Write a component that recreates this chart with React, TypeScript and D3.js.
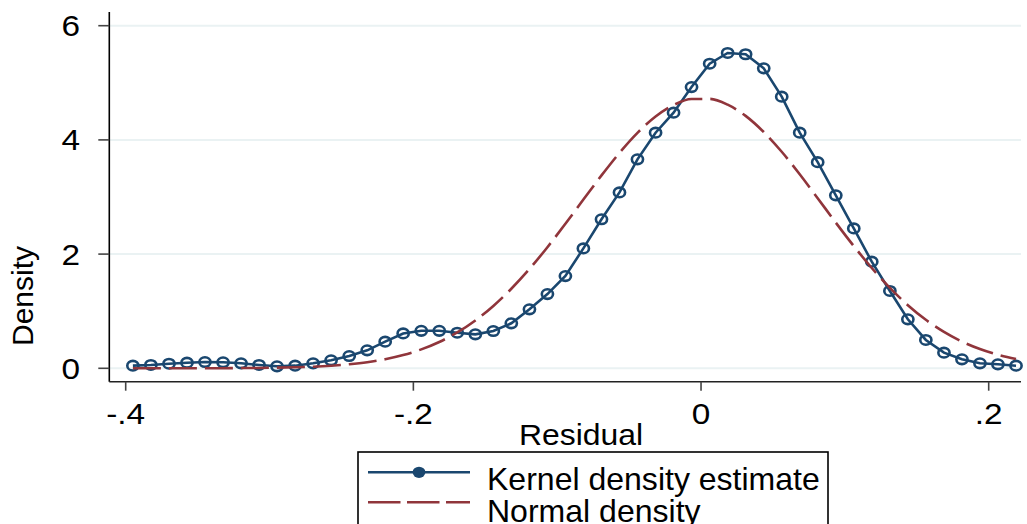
import * as d3 from "d3";
import { useEffect, useRef } from "react";

const width = 1027;
const height = 524;

// evaluation grid of the kernel density
const gridX = [
  -0.395, -0.3825, -0.3699, -0.3574, -0.3449, -0.3323, -0.3198, -0.3073, -0.2948, -0.2822,
  -0.2697, -0.2572, -0.2446, -0.2321, -0.2196, -0.2071, -0.1945, -0.182, -0.1695, -0.1569,
  -0.1444, -0.1319, -0.1193, -0.1068, -0.0943, -0.0818, -0.0692, -0.0567, -0.0442, -0.0316,
  -0.0191, -0.0066, 0.006, 0.0185, 0.031, 0.0436, 0.0561, 0.0686, 0.0811, 0.0937,
  0.1062, 0.1187, 0.1313, 0.1438, 0.1563, 0.1689, 0.1814, 0.1939, 0.2064, 0.219
];

const kernelDensity = [
  0.046, 0.058, 0.08, 0.098, 0.11, 0.105, 0.088, 0.058, 0.035, 0.046,
  0.088, 0.14, 0.215, 0.315, 0.466, 0.61, 0.657, 0.657, 0.623, 0.595,
  0.653, 0.788, 1.033, 1.3, 1.616, 2.1, 2.61, 3.08, 3.66, 4.126,
  4.476, 4.926, 5.334, 5.522, 5.5, 5.254, 4.757, 4.126, 3.61, 3.03,
  2.45, 1.867, 1.354, 0.858, 0.496, 0.274, 0.157, 0.088, 0.07, 0.046
];

const normalDensity = [
  0.0, 0.0, 0.0, 0.001, 0.001, 0.002, 0.004, 0.006, 0.011, 0.018,
  0.028, 0.045, 0.071, 0.107, 0.159, 0.232, 0.331, 0.461, 0.628, 0.838,
  1.092, 1.393, 1.739, 2.121, 2.532, 2.955, 3.378, 3.773, 4.123, 4.409,
  4.61, 4.715, 4.718, 4.617, 4.421, 4.138, 3.792, 3.398, 2.979, 2.551,
  2.141, 1.757, 1.408, 1.105, 0.849, 0.637, 0.468, 0.337, 0.237, 0.162
];

const xTicks = [-0.4, -0.2, 0, 0.2];
const xTickLabels = ["-.4", "-.2", "0", ".2"];
const yTicks = [0, 2, 4, 6];
const yTickLabels = ["0", "2", "4", "6"];
const seriesNames = ["Kernel density estimate", "Normal density"];

const navy = "#1a476f";
const maroon = "#90353b";
const gridColor = "#eaf2f3";
const font = "'Liberation Sans', Arial, sans-serif";

const plot = { left: 109.3, right: 1021, top: 12, bottom: 381.7 };

export default function App() {
  const svgRef = useRef<SVGSVGElement | null>(null);

  useEffect(() => {
    if (!svgRef.current) {
      return;
    }
    const svg = d3.select(svgRef.current);
    svg.selectAll("*").remove();

    const x = d3.scaleLinear().domain([-0.4, 0.2]).range([125.7, 988.7]);
    const y = d3.scaleLinear().domain([0, 6]).range([368.3, 25.7]);

    svg.append("rect").attr("width", width).attr("height", height).attr("fill", "#ffffff");

    // grid
    svg
      .append("g")
      .selectAll("line")
      .data(yTicks)
      .join("line")
      .attr("x1", plot.left)
      .attr("x2", plot.right)
      .attr("y1", (t) => y(t))
      .attr("y2", (t) => y(t))
      .attr("stroke", gridColor)
      .attr("stroke-width", 2);

    const points = gridX.map((gx, i) => ({ x: gx, k: kernelDensity[i], n: normalDensity[i] }));

    const kdeLine = d3
      .line<(typeof points)[number]>()
      .x((p) => x(p.x))
      .y((p) => y(p.k));

    const normLine = d3
      .line<(typeof points)[number]>()
      .x((p) => x(p.x))
      .y((p) => y(p.n))
      .curve(d3.curveMonotoneX);

    svg
      .append("path")
      .datum(points)
      .attr("d", kdeLine)
      .attr("fill", "none")
      .attr("stroke", navy)
      .attr("stroke-width", 2.6);

    svg
      .append("g")
      .selectAll("ellipse")
      .data(points)
      .join("ellipse")
      .attr("cx", (p) => x(p.x))
      .attr("cy", (p) => y(p.k))
      .attr("rx", 5.6)
      .attr("ry", 4.8)
      .attr("fill", "none")
      .attr("stroke", navy)
      .attr("stroke-width", 2.6);

    svg
      .append("path")
      .datum(points)
      .attr("d", normLine)
      .attr("fill", "none")
      .attr("stroke", maroon)
      .attr("stroke-width", 2.6)
      .attr("stroke-dasharray", "28 8");

    // axes
    svg
      .append("line")
      .attr("x1", plot.left)
      .attr("x2", plot.left)
      .attr("y1", plot.top)
      .attr("y2", plot.bottom)
      .attr("stroke", "#000")
      .attr("stroke-width", 1.6);
    svg
      .append("line")
      .attr("x1", plot.left)
      .attr("x2", plot.right)
      .attr("y1", plot.bottom)
      .attr("y2", plot.bottom)
      .attr("stroke", "#222")
      .attr("stroke-width", 1.6);

    svg
      .append("g")
      .selectAll("line")
      .data(yTicks)
      .join("line")
      .attr("x1", plot.left - 11)
      .attr("x2", plot.left)
      .attr("y1", (t) => y(t))
      .attr("y2", (t) => y(t))
      .attr("stroke", "#444")
      .attr("stroke-width", 1.6);

    svg
      .append("g")
      .selectAll("line")
      .data(xTicks)
      .join("line")
      .attr("x1", (t) => x(t))
      .attr("x2", (t) => x(t))
      .attr("y1", plot.bottom)
      .attr("y2", plot.bottom + 9)
      .attr("stroke", "#444")
      .attr("stroke-width", 1.6);

    // text is a little wider than plain Arial in the reference
    svg
      .append("g")
      .selectAll("text")
      .data(yTicks)
      .join("text")
      .attr("transform", (t) => `translate(80, ${y(t) + 10.5}) scale(1.15, 1)`)
      .attr("text-anchor", "end")
      .attr("font-family", font)
      .attr("font-size", 29)
      .text((_t, i) => yTickLabels[i]);

    svg
      .append("g")
      .selectAll("text")
      .data(xTicks)
      .join("text")
      .attr("transform", (t) => `translate(${x(t)}, 424) scale(1.15, 1)`)
      .attr("text-anchor", "middle")
      .attr("font-family", font)
      .attr("font-size", 29)
      .text((_t, i) => xTickLabels[i]);

    svg
      .append("text")
      .attr("transform", "translate(33, 296) rotate(-90)")
      .attr("text-anchor", "middle")
      .attr("font-family", font)
      .attr("font-size", 30)
      .text("Density");

    svg
      .append("text")
      .attr("transform", "translate(581, 445) scale(1.1, 1)")
      .attr("text-anchor", "middle")
      .attr("font-family", font)
      .attr("font-size", 29)
      .text("Residual");

    // legend
    const legend = svg.append("g");
    legend
      .append("rect")
      .attr("x", 358)
      .attr("y", 452)
      .attr("width", 470)
      .attr("height", 110)
      .attr("fill", "#fff")
      .attr("stroke", "#000")
      .attr("stroke-width", 1.6);
    legend
      .append("line")
      .attr("x1", 368)
      .attr("x2", 470)
      .attr("y1", 472.3)
      .attr("y2", 472.3)
      .attr("stroke", navy)
      .attr("stroke-width", 2.6);
    legend
      .append("ellipse")
      .attr("cx", 419)
      .attr("cy", 472.3)
      .attr("rx", 6.4)
      .attr("ry", 5.6)
      .attr("fill", navy);
    legend
      .append("line")
      .attr("x1", 368)
      .attr("x2", 470)
      .attr("y1", 502.3)
      .attr("y2", 502.3)
      .attr("stroke", maroon)
      .attr("stroke-width", 2.6)
      .attr("stroke-dasharray", "32.5 6.5");
    legend
      .selectAll("text")
      .data(seriesNames)
      .join("text")
      .attr("transform", (_d, i) => `translate(487, ${490 + i * 31.5}) scale(1.05, 1)`)
      .attr("font-family", font)
      .attr("font-size", 30.5)
      .text((d) => d);
  }, []);

  return (
    <svg
      ref={svgRef}
      width={width}
      height={height}
      style={{ position: "absolute", left: 0, top: 0, display: "block" }}
    />
  );
}
